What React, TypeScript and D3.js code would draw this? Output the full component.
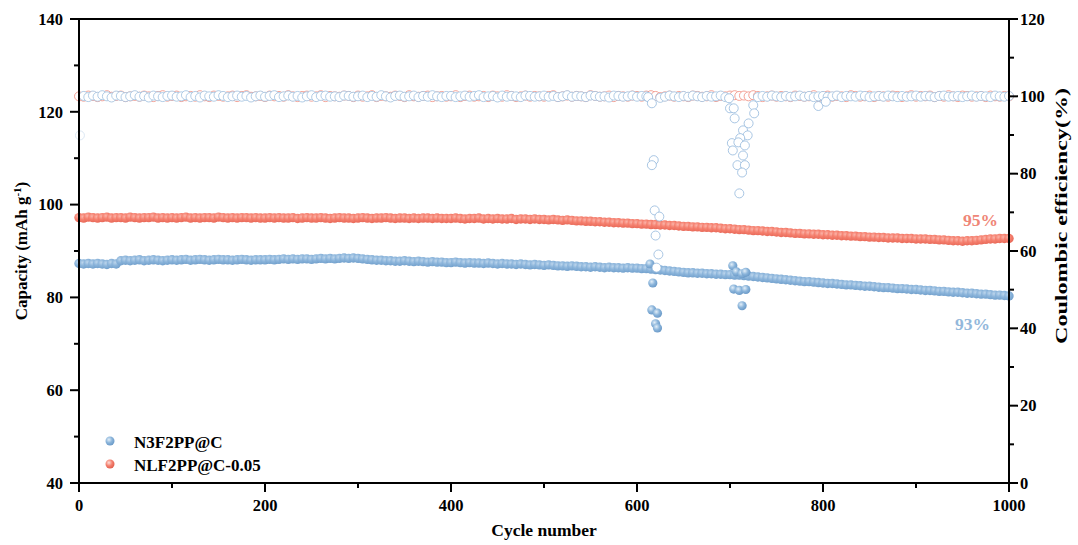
import React from "react";
import * as d3 from "d3";

// ---------- DATA ----------
const cycles: number[] = d3.range(0, 1001, 5); // 201 sampled cycles

const redCapacity: number[] = [
  97.2,97.1,97.3,97.2,97.1,97.2,97.3,97.1,97.2,97.2,97.1,97.3,97.2,97.1,97.2,97.2,97.3,97.1,97.2,97.1,
  97.2,97.1,97.2,97.3,97.1,97.2,97.1,97.2,97.2,97.1,97.3,97.2,97.1,97.2,97.1,97.2,97.2,97.1,97.2,97.1,
  97.1,97.2,97.1,97.2,97.1,97.1,97.2,97.0,97.1,97.2,97.1,97.1,97.2,97.1,97.0,97.1,97.2,97.1,97.1,97.0,
  97.1,97.2,97.1,97.0,97.1,97.1,97.2,97.1,97.0,97.1,97.1,97.0,97.1,97.0,97.1,97.1,97.0,97.1,97.0,97.0,
  97.0,97.1,97.0,96.9,97.0,97.0,97.1,96.9,97.0,96.9,97.0,96.9,96.9,97.0,96.8,96.9,96.9,96.8,96.9,96.8,
  96.8,96.7,96.8,96.7,96.6,96.7,96.6,96.5,96.5,96.4,96.4,96.3,96.3,96.2,96.2,96.1,96.1,96.0,96.0,95.9,
  95.9,95.8,95.8,95.7,95.7,95.6,95.6,95.5,95.5,95.4,95.3,95.3,95.2,95.2,95.1,95.1,95.0,95.0,94.9,94.8,
  94.8,94.7,94.6,94.6,94.5,94.4,94.4,94.3,94.2,94.2,94.1,94.0,94.0,93.9,93.8,93.8,93.7,93.7,93.6,93.6,
  93.5,93.5,93.4,93.4,93.3,93.3,93.2,93.2,93.1,93.1,93.0,93.0,92.9,92.9,92.8,92.8,92.8,92.7,92.7,92.7,
  92.6,92.6,92.6,92.5,92.5,92.4,92.4,92.3,92.2,92.2,92.1,92.2,92.2,92.3,92.4,92.5,92.6,92.6,92.7,92.7,
  92.7,
];

const blueCapacity: number[] = [
  87.3,87.2,87.3,87.2,87.3,87.2,87.1,87.3,87.2,87.9,88.0,87.9,88.0,88.1,87.9,88.0,88.1,88.0,87.9,88.0,
  88.1,88.0,88.1,88.2,88.0,88.1,88.2,88.1,88.0,88.1,88.2,88.1,88.1,88.0,88.1,88.2,88.1,88.0,88.1,88.1,
  88.1,88.2,88.1,88.2,88.3,88.2,88.3,88.2,88.3,88.3,88.2,88.3,88.4,88.3,88.4,88.3,88.4,88.5,88.4,88.5,
  88.4,88.3,88.2,88.1,88.0,88.0,87.9,87.9,87.8,87.8,87.9,87.8,87.7,87.8,87.7,87.6,87.7,87.6,87.6,87.5,
  87.5,87.6,87.5,87.4,87.5,87.4,87.4,87.3,87.4,87.3,87.2,87.3,87.2,87.2,87.1,87.2,87.1,87.0,87.1,87.0,
  86.9,87.0,86.9,86.8,86.8,86.7,86.8,86.7,86.6,86.6,86.5,86.6,86.5,86.4,86.5,86.4,86.4,86.3,86.4,86.3,
  86.3,86.2,86.2,86.1,86.0,85.9,85.8,85.7,85.6,85.5,85.4,85.3,85.3,85.2,85.2,85.1,85.1,85.0,85.0,84.9,
  84.9,84.8,84.8,84.7,84.6,84.5,84.4,84.3,84.2,84.1,84.0,83.9,83.8,83.7,83.6,83.5,83.4,83.4,83.3,83.2,
  83.1,83.0,83.0,82.9,82.8,82.7,82.7,82.6,82.5,82.4,82.4,82.3,82.2,82.1,82.1,82.0,81.9,81.9,81.8,81.7,
  81.7,81.6,81.5,81.5,81.4,81.3,81.3,81.2,81.1,81.1,81.0,80.9,80.9,80.8,80.7,80.7,80.6,80.5,80.5,80.4,
  80.3,
];

// Blue capacity points that leave the band (cycle, capacity)
const blueCapacityOutliers: [number, number][] = [
  [614, 87.2], [617, 83.1], [616, 77.3], [622, 76.6], [620, 74.3], [622, 73.4],
  [703, 86.8], [707, 85.5], [713, 85.1], [717, 85.4], [704, 81.8], [710, 81.5], [717, 81.7], [713, 78.2],
];

const redCE: (number | null)[] = [
  100.0,99.9,100.2,100.1,99.8,100.0,100.3,99.9,100.1,100.2,99.8,100.0,100.1,99.9,100.2,100.0,99.8,100.1,100.3,99.9,
  100.1,100.2,99.8,100.0,100.1,99.9,100.3,100.0,99.8,100.2,100.1,99.9,100.0,100.2,99.8,100.1,100.3,99.9,100.0,100.1,
  99.8,100.2,100.0,100.1,99.9,100.3,100.0,99.8,100.1,100.2,99.9,100.0,100.3,99.8,100.1,100.0,99.9,100.2,100.1,99.8,
  100.2,99.9,100.0,100.3,99.8,100.1,100.0,99.9,100.2,100.1,99.8,100.3,100.0,99.9,100.1,100.2,99.8,100.0,100.1,99.9,
  100.0,100.3,99.8,100.1,100.2,99.9,100.0,100.1,99.8,100.2,100.0,99.9,100.3,100.1,99.8,100.0,100.2,99.9,100.1,100.0,
  99.9,100.1,100.3,99.8,100.0,100.2,99.9,100.1,100.0,99.8,100.3,100.1,99.9,100.0,100.2,99.8,100.1,100.0,99.9,100.2,
  100.1,99.9,100.2,100.3,100.1,99.8,100.0,100.2,99.9,100.1,100.0,99.8,100.2,100.1,99.9,100.0,100.3,99.8,100.1,100.0,
  100.2,100.3,100.1,100.2,100.0,100.3,100.1,99.8,100.0,100.2,99.9,100.1,100.0,99.8,100.2,100.1,99.9,100.0,100.3,99.8,
  100.0,100.2,99.9,100.1,100.0,99.8,100.3,100.1,99.9,100.0,100.2,99.8,100.1,100.0,99.9,100.2,100.1,99.8,100.0,100.3,
  99.9,100.1,100.0,100.2,99.8,100.1,99.9,100.3,100.0,99.8,100.2,100.1,99.9,100.0,100.1,99.8,100.2,100.0,99.9,100.1,
  100.0,
];

const blueCE: (number | null)[] = [
  null,100.1,99.8,100.2,99.9,100.3,100.0,99.7,100.2,100.1,99.8,100.0,100.3,99.9,100.1,99.7,100.2,100.0,99.8,100.1,
  100.2,99.9,100.0,100.3,99.8,100.1,99.7,100.2,100.0,99.9,100.3,100.1,99.8,100.0,100.2,99.9,100.1,99.7,100.0,100.2,
  99.9,100.1,100.3,99.8,100.0,100.2,99.9,100.1,99.7,100.0,100.3,99.8,100.1,100.2,99.9,100.0,99.8,100.2,100.1,99.9,
  100.0,100.2,99.8,100.1,99.9,100.3,100.0,99.7,100.1,100.2,99.9,100.0,100.2,99.8,100.1,99.9,100.3,100.0,99.8,100.1,
  100.1,99.8,100.0,100.2,99.9,100.1,100.3,99.8,100.0,100.1,99.7,100.2,99.9,100.1,100.0,99.8,100.2,100.1,99.9,100.0,
  100.2,99.9,100.1,99.8,100.0,100.3,99.9,100.1,100.0,99.8,100.2,100.1,99.9,100.0,99.7,100.2,100.1,99.9,100.0,100.2,
  99.9,100.1,100.0,null,null,99.6,99.9,100.2,100.0,99.8,100.1,99.9,100.2,100.0,99.8,100.1,99.9,100.0,100.2,99.8,
  null,null,null,null,null,null,99.8,100.1,99.9,100.2,100.0,99.8,100.1,99.9,100.0,100.2,99.9,100.1,99.8,100.0,
  100.1,99.9,100.0,100.2,99.8,100.1,100.0,99.9,100.2,100.1,99.8,100.0,100.1,99.9,100.2,100.0,99.8,100.1,99.9,100.0,
  100.2,99.9,100.1,100.0,99.8,100.1,100.2,99.9,100.0,100.1,99.8,100.0,100.2,99.9,100.1,100.0,99.8,100.2,100.0,99.9,
  100.1,
];

// Blue coulombic efficiency points that leave the band (cycle, CE %)
const blueCEOutliers: [number, number][] = [
  [1, 89.9],
  [612, 99.8], [616, 98.2], [618, 83.5], [616, 82.2], [619, 70.5], [624, 68.9], [620, 64.0], [623, 59.1], [621, 55.7],
  [699, 99.5], [700, 96.9], [704, 96.9], [705, 94.3], [725, 97.7], [726, 95.6], [720, 93.0], [714, 91.2],
  [719, 89.9], [711, 89.2], [702, 87.9], [709, 88.1], [716, 87.3], [703, 86.0], [714, 84.7], [708, 82.2],
  [716, 82.2], [713, 80.3], [710, 74.9], [795, 97.5], [803, 98.6],
];

const xTicks = [0, 200, 400, 600, 800, 1000];
const xMinor = [100, 300, 500, 700, 900];
const yLeftTicks = [40, 60, 80, 100, 120, 140];
const yLeftMinor = [50, 70, 90, 110, 130];
const yRightTicks = [0, 20, 40, 60, 80, 100, 120];
const yRightMinor = [10, 30, 50, 70, 90, 110];

const seriesNames = ["N3F2PP@C", "NLF2PP@C-0.05"];
const retentionLabels = ["93%", "95%"];

// ---------- LAYOUT / STYLE ----------
const W = 1078, H = 545;
const L = 79, R = 1009, T = 19, B = 483;
const FONT = "'Liberation Serif', 'Times New Roman', serif";

const x = d3.scaleLinear().domain([0, 1000]).range([L, R]);
const yL = d3.scaleLinear().domain([40, 140]).range([B, T]);
const yR = d3.scaleLinear().domain([0, 120]).range([B, T]);

export default function App() {
  const capR = 4.7;
  const ceR = 4.5;
  return (
    <svg width={W} height={H} style={{ position: "absolute", left: 0, top: 0, background: "#fff" }}
      fontFamily={FONT}>
      <defs>
        <radialGradient id="gBlue" cx="38%" cy="35%" r="65%">
          <stop offset="0%" stopColor="#bcd5ec" />
          <stop offset="50%" stopColor="#8cb5db" />
          <stop offset="100%" stopColor="#73a1cd" />
        </radialGradient>
        <radialGradient id="gRed" cx="38%" cy="35%" r="65%">
          <stop offset="0%" stopColor="#fbb3a8" />
          <stop offset="50%" stopColor="#f5806f" />
          <stop offset="100%" stopColor="#e96a59" />
        </radialGradient>
        <radialGradient id="gBlueL" cx="38%" cy="35%" r="65%">
          <stop offset="0%" stopColor="#e2eef8" />
          <stop offset="55%" stopColor="#8ab4da" />
          <stop offset="100%" stopColor="#6c9bc9" />
        </radialGradient>
        <radialGradient id="gRedL" cx="38%" cy="35%" r="65%">
          <stop offset="0%" stopColor="#fde0da" />
          <stop offset="55%" stopColor="#f4806f" />
          <stop offset="100%" stopColor="#e2604f" />
        </radialGradient>
      </defs>
      <rect x={0} y={0} width={W} height={H} fill="#fff" />

      {/* capacity: red */}
      <g>
        {cycles.map((c, i) => (
          <circle key={"rc" + i} cx={x(c)} cy={yL(redCapacity[i])} r={capR} fill="url(#gRed)" />
        ))}
      </g>
      {/* capacity: blue */}
      <g>
        {cycles.map((c, i) => (
          <circle key={"bc" + i} cx={x(c)} cy={yL(blueCapacity[i])} r={capR} fill="url(#gBlue)" />
        ))}
        {blueCapacityOutliers.map(([c, v], i) => (
          <circle key={"bco" + i} cx={x(c)} cy={yL(v)} r={4.6} fill="url(#gBlueL)" />
        ))}
      </g>
      {/* CE: red */}
      <g>
        {cycles.map((c, i) =>
          redCE[i] == null ? null : (
            <circle key={"re" + i} cx={x(c)} cy={yR(redCE[i] as number)} r={ceR}
              fill="#fff" stroke="#f08a7c" strokeWidth={0.8} />
          )
        )}
      </g>
      {/* CE: blue */}
      <g>
        {cycles.map((c, i) =>
          blueCE[i] == null ? null : (
            <circle key={"be" + i} cx={x(c)} cy={yR(blueCE[i] as number)} r={ceR}
              fill="#fff" stroke="#9dbfde" strokeWidth={0.8} />
          )
        )}
        {blueCEOutliers.map(([c, v], i) => (
          <circle key={"beo" + i} cx={x(c)} cy={yR(v)} r={ceR}
            fill="#fff" stroke="#93b8dc" strokeWidth={0.8} opacity={c === 1 ? 0.4 : 1} />
        ))}
      </g>

      {/* axes frame */}
      <g stroke="#000" strokeWidth={2} fill="none">
        <line x1={L} x2={R} y1={T} y2={T} />
        <line x1={L} x2={R} y1={B} y2={B} />
        <line x1={L} x2={L} y1={T - 1} y2={B + 1} />
        <line x1={R} x2={R} y1={T - 1} y2={B + 1} />
        {xTicks.map((t) => <line key={"xt" + t} x1={x(t)} x2={x(t)} y1={B} y2={B + 9} />)}
        {xMinor.map((t) => <line key={"xm" + t} x1={x(t)} x2={x(t)} y1={B} y2={B + 5} />)}
        {yLeftTicks.map((t) => <line key={"lt" + t} x1={L - 9} x2={L} y1={yL(t)} y2={yL(t)} />)}
        {yLeftMinor.map((t) => <line key={"lm" + t} x1={L - 5} x2={L} y1={yL(t)} y2={yL(t)} />)}
        {yRightTicks.map((t) => <line key={"rt" + t} x1={R} x2={R + 9} y1={yR(t)} y2={yR(t)} />)}
        {yRightMinor.map((t) => <line key={"rm" + t} x1={R} x2={R + 5} y1={yR(t)} y2={yR(t)} />)}
      </g>

      {/* tick labels */}
      <g fontSize={16.5} fontWeight="bold" fill="#000">
        {xTicks.map((t) => (
          <text key={"xl" + t} x={x(t)} y={511} textAnchor="middle">{t}</text>
        ))}
        {yLeftTicks.map((t) => (
          <text key={"ll" + t} x={63} y={yL(t)} dy="0.35em" textAnchor="end">{t}</text>
        ))}
        {yRightTicks.map((t) => (
          <text key={"rl" + t} x={1020} y={yR(t)} dy="0.35em" textAnchor="start">{t}</text>
        ))}
      </g>

      {/* axis titles */}
      <text x={(L + R) / 2} y={536} textAnchor="middle" fontSize={17.5} fontWeight="bold">Cycle number</text>
      <text transform={`translate(27, ${(T + B) / 2}) rotate(-90)`} textAnchor="middle" fontSize={17} fontWeight="bold">
        Capacity (mAh g<tspan dy="-6" fontSize={11}>-1</tspan><tspan dy="6">)</tspan>
      </text>
      <text transform={`translate(1067, 216) rotate(-90)`} textAnchor="middle" fontSize={17} fontWeight="bold"
        textLength={256} lengthAdjust="spacingAndGlyphs">
        Coulombic efficiency(%)
      </text>

      {/* legend */}
      <circle cx={110} cy={441} r={4.5} fill="url(#gBlueL)" />
      <text x={134} y={448} fontSize={17} fontWeight="bold">{seriesNames[0]}</text>
      <circle cx={110} cy={464} r={4.5} fill="url(#gRedL)" />
      <text x={134} y={471} fontSize={17} fontWeight="bold">{seriesNames[1]}</text>

      {/* retention annotations */}
      <text x={963} y={225.5} fontSize={17.5} fontWeight="bold" fill="#ef8677">{retentionLabels[1]}</text>
      <text x={955} y={329.5} fontSize={17.5} fontWeight="bold" fill="#93b8db">{retentionLabels[0]}</text>
    </svg>
  );
}
